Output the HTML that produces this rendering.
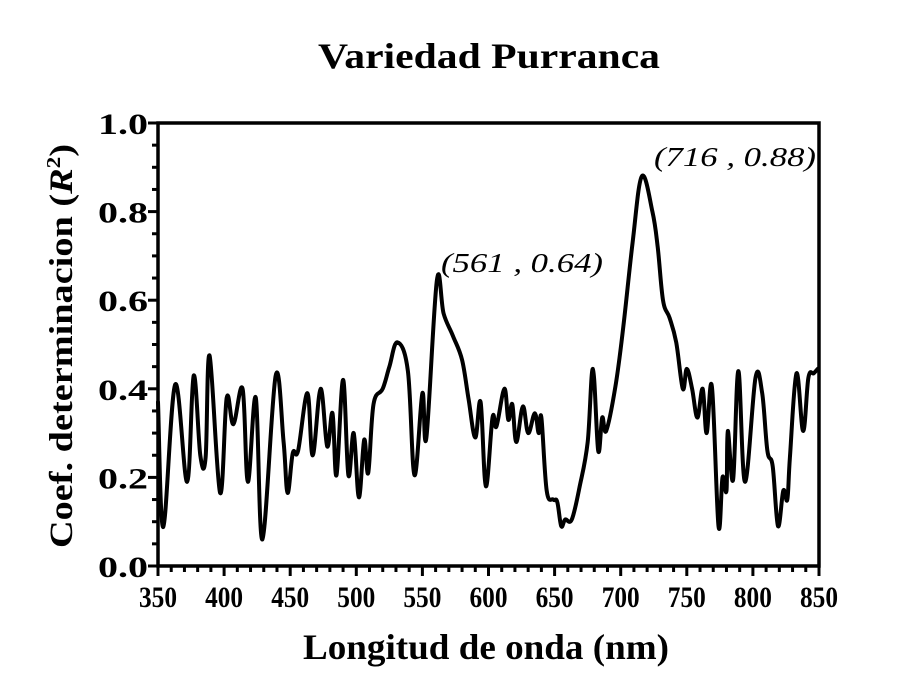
<!DOCTYPE html>
<html><head><meta charset="utf-8"><style>
html,body{margin:0;padding:0;background:#fff;}
svg{display:block;font-family:"Liberation Serif",serif;}
</style></head><body>
<svg id="chart" width="910" height="699" viewBox="0 0 910 699">
<text x="489" y="68" text-anchor="middle" font-size="36" font-weight="bold" textLength="342" lengthAdjust="spacingAndGlyphs">Variedad Purranca</text>
<g id="axes"></g>
<path id="line" fill="none" stroke="#000" stroke-width="4" stroke-linejoin="round" stroke-linecap="round"></path>
<text x="486" y="659" text-anchor="middle" font-size="36" font-weight="bold" textLength="366" lengthAdjust="spacingAndGlyphs">Longitud de onda (nm)</text>
<text transform="translate(72,346) rotate(-90)" text-anchor="middle" font-size="33" font-weight="bold" textLength="404" lengthAdjust="spacingAndGlyphs">Coef. determinacion (<tspan font-style="italic">R</tspan><tspan dy="-12" font-size="20">2</tspan><tspan dy="12">)</tspan></text>
<text x="522" y="272" text-anchor="middle" font-size="27" font-style="italic" textLength="162" lengthAdjust="spacingAndGlyphs">(561 , 0.64)</text>
<text x="735" y="166" text-anchor="middle" font-size="27" font-style="italic" textLength="162" lengthAdjust="spacingAndGlyphs">(716 , 0.88)</text>
</svg>
<script>
const wavelengths=[350,354,363,372,377,382,386,389,397,402,407,414,418,424,429,439,445,448,452,456,463,467,473,478,482,485,490,494,498,502,506,509,513,520,525,531,539,544,550,553,561,566,573,580,585,590,594,598,603,606,612,615,618,621,626,630,635,638,640,644,649,652,655,658,663,669,675,679,683,686,689,696,702,709,716,724,728,732,737,742,747,750,754,758,762,765,769,774,777,780,781,785,789,794,802,807,811,815,819,823,826,828,833,838,842,846,849];
const r2Values=[0.37,0.088,0.41,0.19,0.43,0.25,0.245,0.475,0.165,0.38,0.32,0.40,0.19,0.38,0.06,0.43,0.28,0.165,0.255,0.26,0.39,0.25,0.40,0.27,0.345,0.205,0.42,0.205,0.30,0.155,0.285,0.21,0.365,0.40,0.45,0.505,0.44,0.205,0.39,0.29,0.645,0.57,0.52,0.465,0.375,0.29,0.37,0.18,0.335,0.315,0.40,0.33,0.365,0.28,0.36,0.30,0.345,0.30,0.335,0.17,0.15,0.145,0.09,0.105,0.105,0.18,0.28,0.445,0.26,0.335,0.305,0.405,0.54,0.73,0.88,0.80,0.72,0.60,0.56,0.505,0.40,0.445,0.40,0.335,0.40,0.30,0.405,0.09,0.20,0.17,0.305,0.195,0.44,0.19,0.425,0.39,0.26,0.225,0.09,0.17,0.15,0.245,0.435,0.305,0.425,0.435,0.445];
const xTicks=[350,400,450,500,550,600,650,700,750,800,850];
const yTicks=[0.0,0.2,0.4,0.6,0.8,1.0];
const X0=158,X1=819,Y0=566,Y1=123;
const xs=v=>X0+(v-350)/500*(X1-X0);
const ys=v=>Y0-v*(Y0-Y1);
const NS="http://www.w3.org/2000/svg";
const axes=document.getElementById('axes');
function mk(tag,attrs){const e=document.createElementNS(NS,tag);for(const k in attrs)e.setAttribute(k,attrs[k]);axes.appendChild(e);return e;}
const frame=mk('rect',{x:X0,y:Y1,width:X1-X0,height:Y0-Y1,fill:'none',stroke:'#000','stroke-width':3.5});


for(let w=350;w<=850;w+=10){
  const major=(w%50===0);
  const t=mk('line',{x1:xs(w),x2:xs(w),y1:Y0,y2:Y0+(major?10:6),stroke:'#000','stroke-width':3});
  
  
}
for(let i=0;i<=20;i++){
  const v=i*0.05;const major=(i%4===0);
  const t=mk('line',{x1:X0,x2:X0-(major?10:6),y1:ys(v),y2:ys(v),stroke:'#000','stroke-width':3});
  
  
}
xTicks.forEach(v=>{
  const t=mk('text',{x:xs(v),y:Y0+41,'text-anchor':'middle','font-size':30,'font-weight':'bold',textLength:38,lengthAdjust:'spacingAndGlyphs'});
  t.textContent=v;
  
  
});
yTicks.forEach(v=>{
  const t=mk('text',{x:X0-10,y:ys(v)+11,'text-anchor':'end','font-size':30,'font-weight':'bold',textLength:50,lengthAdjust:'spacingAndGlyphs'});
  t.textContent=v.toFixed(1);
  
  
});
const P=wavelengths.map((w,i)=>[xs(w),ys(r2Values[i])]);
let d='M'+P[0][0].toFixed(1)+','+P[0][1].toFixed(1);
const k=0.18;
for(let i=0;i<P.length-1;i++){
  const p0=P[Math.max(i-1,0)],p1=P[i],p2=P[i+1],p3=P[Math.min(i+2,P.length-1)];
  const c1=[p1[0]+(p2[0]-p0[0])*k,p1[1]+(p2[1]-p0[1])*k];
  const c2=[p2[0]-(p3[0]-p1[0])*k,p2[1]-(p3[1]-p1[1])*k];
  d+='C'+c1.map(n=>n.toFixed(1)).join(',')+' '+c2.map(n=>n.toFixed(1)).join(',')+' '+p2.map(n=>n.toFixed(1)).join(',');
}
document.getElementById('line').setAttribute('d',d);
</script>
</body></html>
